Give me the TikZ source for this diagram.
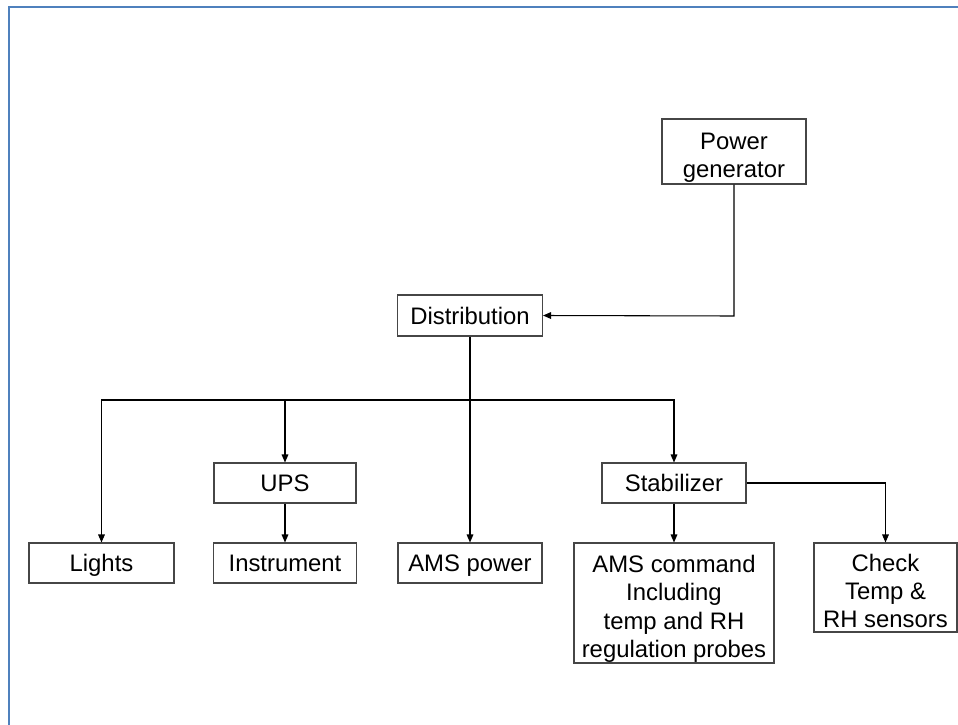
\documentclass[tikz,border=0pt]{standalone}
\usepackage{fontspec}
\setmainfont{Liberation Sans}
\usetikzlibrary{arrows.meta}
\definecolor{frameblue}{RGB}{79,129,189}
\definecolor{boxgray}{RGB}{70,70,70}
\newcommand{\toppad}{\rule{0pt}{18pt}}
\begin{document}
\begin{tikzpicture}[x=0.75pt,y=-0.75pt,
  boxnode/.style={draw=boxgray,line width=0.8pt,inner sep=0pt,align=center,
     text depth=0pt,font=\fontsize{17.9}{21.25}\selectfont},
  conn/.style={draw=black,line width=0.8pt},
  arr/.style={conn,-{Triangle[length=6pt,width=5pt]}},
  heavy/.style={draw=black,line width=1.5pt}]
\useasboundingbox (0,0) rectangle (958,725);
\fill[white] (0,0) rectangle (958,725);
\draw[frameblue,line width=1.6pt] (9,725) -- (9,7) -- (958,7);

\node[boxnode,minimum width=144*0.75pt, minimum height=65*0.75pt] (pg) at (734,151.5) {\toppad Power\\generator};
\node[boxnode,minimum width=145*0.75pt, minimum height=41*0.75pt] (dist) at (470,315.5) {Distribution};
\node[boxnode,minimum width=145*0.75pt, minimum height=40*0.75pt] (lights) at (101.5,563) {Lights};
\node[boxnode,minimum width=142*0.75pt, minimum height=40*0.75pt] (ups) at (285,483) {UPS};
\node[boxnode,minimum width=143*0.75pt, minimum height=40*0.75pt] (instr) at (285,563) {Instrument};
\node[boxnode,minimum width=144*0.75pt, minimum height=40*0.75pt] (ams) at (470,563) {AMS power};
\node[boxnode,minimum width=144*0.75pt, minimum height=40*0.75pt] (stab) at (674,483) {Stabilizer};
\node[boxnode,minimum width=200*0.75pt, minimum height=120*0.75pt] (cmd) at (674,603) {\toppad AMS command\\Including\\temp and RH\\regulation probes};
\node[boxnode,minimum width=143*0.75pt, minimum height=89*0.75pt] (chk) at (885.5,587.5) {\toppad Check\\Temp \&\\RH sensors};

\coordinate (bus) at (470,400);
\coordinate (pgturn) at (734,316);

\draw[arr] (pg.south) -- (pgturn) -- (dist.east);
\draw[heavy] (dist.south) -- (bus) -- (bus -| ups.north);
\draw[arr] (bus) -| (lights.north);
\draw[arr] (bus) -| (ups.north);
\draw[arr] (bus) -- (ams.north);
\draw[arr] (bus) -| (stab.north);
\draw[arr] (ups.south) -- (instr.north);
\draw[arr] (stab.south) -- (cmd.north);
\draw[arr] (stab.east) -| (chk.north);
\end{tikzpicture}
\end{document}
